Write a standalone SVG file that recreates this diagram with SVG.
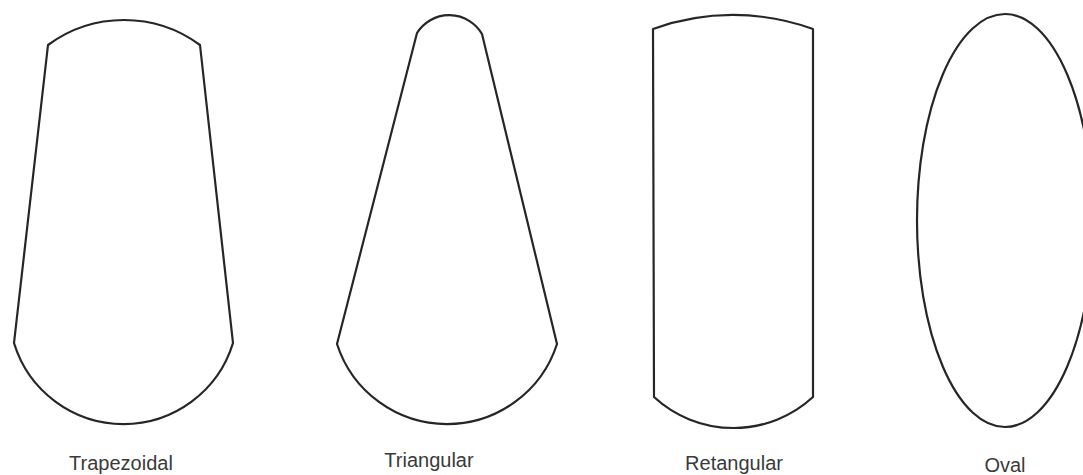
<svg xmlns="http://www.w3.org/2000/svg" width="1083" height="475" viewBox="0 0 1083 475">
<style>
.shape{fill:#fff;stroke:#262626;stroke-width:2.2;stroke-linejoin:round}
.lbl{font-family:"Liberation Sans",Arial,sans-serif;font-size:20px;fill:#3a3a3a;text-anchor:middle}
</style>
<rect width="1083" height="475" fill="#fff"/>
<g id="trapezoidal">
<path class="shape" d="M48,45 A128,128 0 0 1 200,45 L233,343 A114.5,114.5 0 0 1 14,343 Z"/>
<text class="lbl" x="121" y="470">Trapezoidal</text>
</g>
<g id="triangular">
<path class="shape" d="M417,33 A38,38 0 0 1 482,34 L557,344 A115.6,115.6 0 0 1 337,344 Z"/>
<text class="lbl" x="429" y="467">Triangular</text>
</g>
<g id="retangular">
<path class="shape" d="M653,29 A235,235 0 0 1 813,29 L813,397 A117.4,117.4 0 0 1 654,397 Z"/>
<text class="lbl" x="734" y="470">Retangular</text>
</g>
<g id="oval">
<ellipse class="shape" cx="1005" cy="220.5" rx="88" ry="206.5"/>
<text class="lbl" x="1005" y="472">Oval</text>
</g>
</svg>
